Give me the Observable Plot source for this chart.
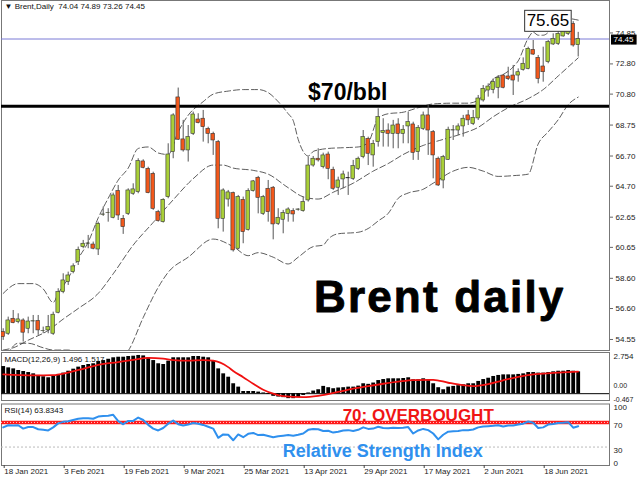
<!DOCTYPE html>
<html><head><meta charset="utf-8">
<script src="https://cdn.jsdelivr.net/npm/d3@7"></script>
<script src="https://cdn.jsdelivr.net/npm/@observablehq/plot@0.6"></script>
<style>
html,body{margin:0;padding:0;background:#fff;}
#chart{position:relative;width:640px;height:480px;overflow:hidden;font-family:"Liberation Sans",Arial,sans-serif;}
</style></head><body><div id="chart"></div>
<script>
// ---- daily OHLC (bar index 0 = 18 Jan 2021) ----
const opens = [55.04,54.93,55.92,55.70,55.81,55.26,55.74,55.77,55.10,55.15,54.93,56.32,57.69,58.35,59.01,59.67,60.67,60.89,60.84,60.51,
62.81,62.92,62.61,64.38,62.54,62.87,64.20,64.31,66.34,65.85,65.52,62.98,62.32,63.98,66.96,70.58,67.80,67.07,68.17,69.12,
69.17,68.50,68.17,67.62,62.54,63.82,64.24,60.56,63.80,61.81,64.38,65.26,62.87,64.53,64.60,62.21,62.48,62.87,63.05,63.14,
63.05,63.76,66.07,66.52,65.96,66.80,65.79,64.60,65.15,65.22,65.19,65.85,66.63,67.84,66.74,67.62,68.22,68.39,68.17,68.79,
68.17,68.66,68.79,66.96,68.50,69.39,68.28,66.52,65.08,66.45,68.39,68.39,68.66,69.39,68.83,69.19,70.38,71.04,71.08,71.22,
72.03,71.97,72.03,72.03,72.41,72.47,73.73,73.20,72.63,72.92,74.09,74.13,74.62,74.79,75.45,74.04];
const highs = [55.26,56.03,56.47,56.25,55.92,56.03,56.14,56.14,55.37,56.14,56.36,57.91,58.90,59.01,59.56,60.67,61.11,61.44,61.00,62.32,
63.32,63.21,64.24,64.75,62.76,64.53,64.86,66.52,66.45,65.96,65.63,63.10,63.87,67.51,69.50,71.20,69.06,68.72,69.61,69.50,
69.72,68.61,68.28,67.73,64.53,64.42,64.31,64.09,63.98,64.53,65.08,65.35,64.09,65.08,64.68,63.21,63.10,63.27,63.21,63.21,
63.98,66.63,66.67,67.18,66.89,66.96,65.96,65.30,65.70,65.63,66.41,66.63,68.39,67.95,67.73,69.83,69.17,68.83,69.06,69.17,
68.72,69.61,68.94,68.72,69.61,70.05,68.39,66.63,66.74,68.61,68.72,68.83,69.39,69.72,69.72,70.71,71.37,71.48,71.81,72.03,
72.10,72.58,72.70,72.47,73.20,73.91,74.35,73.36,73.91,74.35,74.79,75.12,75.34,75.65,75.60,74.89];
const lows = [54.49,54.82,55.59,55.59,54.38,54.93,54.93,54.82,54.93,54.93,54.82,56.25,57.58,58.13,58.90,59.45,60.56,60.56,60.49,60.11,
62.70,62.32,62.54,62.43,61.51,62.76,64.09,64.20,65.85,64.20,63.10,62.32,62.26,63.87,66.52,67.73,66.96,66.30,68.06,68.83,
67.62,67.51,66.74,61.88,61.66,63.32,60.34,60.49,60.89,61.73,64.31,62.87,62.76,62.32,61.15,62.10,61.55,62.32,62.32,63.05,
62.98,63.65,65.96,66.30,65.85,65.13,64.42,64.09,64.53,64.09,65.08,65.74,66.52,66.07,65.96,67.29,67.29,67.29,67.18,67.18,
67.51,67.51,66.41,66.41,68.39,66.74,65.19,64.68,64.53,66.41,67.73,68.06,67.95,68.72,68.72,69.05,70.27,70.60,70.82,70.49,
71.15,71.70,70.71,71.59,72.32,72.41,73.36,71.48,71.59,72.81,74.02,74.02,74.57,74.68,73.91,73.26];
const closes = [54.71,55.81,55.63,55.88,55.00,55.74,55.76,55.15,55.12,55.37,56.19,57.69,58.46,58.79,59.39,60.49,60.89,60.91,60.56,62.21,
62.83,62.94,64.09,62.76,61.99,64.42,64.49,66.36,65.92,64.24,63.20,62.39,63.80,66.80,69.39,67.78,67.07,67.95,69.45,68.88,
68.61,68.17,67.73,62.54,64.42,64.29,60.45,63.98,61.66,64.38,65.02,63.93,63.98,62.98,62.17,62.61,62.92,63.16,62.83,63.16,
63.65,66.07,66.52,66.41,66.74,65.85,64.53,65.08,65.48,65.24,66.03,66.52,67.95,66.85,67.51,69.28,68.35,68.17,68.72,68.17,
68.44,68.94,66.91,68.57,69.39,68.39,66.74,64.75,66.63,68.44,68.41,68.66,69.17,69.06,69.23,70.51,71.15,71.30,71.59,71.88,
71.22,71.79,71.70,72.25,72.81,73.80,73.42,71.81,72.25,74.24,74.46,74.79,74.97,75.34,74.02,74.45];

// ---- Bollinger bands (20,2) read at sample bars: [bar, value] ----
const bbUpper = [[0,57.6],[3,58.25],[6,58.25],[8,57.9],[10,57.0],[11,57.6],[13,58.6],[15,59.9],[17,61.0],[19,62.6],[21,63.9],[23,65.1],[25,65.9],[27,67.2],[29,67.3],[31,66.9],[33,66.8],[35,68.3],[37,69.4],[40,70.3],[42,70.8],[45,71.0],[48,71.1],[51,71.1],[53,70.9],[55,70.3],[57,69.5],[58,69.05],[59,67.8],[60,67.0],[61,66.7],[62,67.0],[63,67.1],[65,67.2],[68,67.25],[71,67.3],[73,67.6],[75,69.2],[77,69.5],[80,69.6],[83,69.9],[86,70.15],[90,70.2],[93,70.2],[95,70.4],[97,71.3],[98,71.8],[100,72.1],[102,72.6],[103,73.0],[105,74.5],[106,74.9],[107,74.7],[108,74.7],[110,75.2],[112,75.7],[113,75.8],[115,75.7]];
const bbMiddle = [[0,53.85],[2,54.0],[5,54.5],[9,55.15],[12,55.9],[15,56.6],[19,57.6],[22,58.9],[26,60.8],[30,62.3],[34,63.8],[38,65.2],[42,66.1],[44,66.1],[46,65.9],[50,65.75],[53,65.5],[57,64.6],[60,64.0],[63,63.85],[66,64.3],[70,64.9],[74,65.7],[77,66.2],[80,66.8],[84,67.4],[88,67.8],[92,68.2],[95,68.6],[98,69.3],[101,69.9],[105,70.5],[108,71.1],[111,72.0],[113,72.6],[115,73.2]];
const bbLower = [[0,53.0],[3,54.3],[5,54.3],[8,54.0],[10,53.85],[13,53.85],[16,53.3],[20,52.9],[24,53.4],[25,53.8],[28,56.0],[31,58.0],[33,59.0],[37,60.0],[42,61.2],[46,60.7],[49,60.1],[51,60.3],[54,60.0],[57,59.55],[59,60.0],[62,60.7],[64,60.8],[65,61.2],[67,61.55],[71,61.65],[73,61.9],[75,62.4],[77,62.9],[79,63.9],[81,64.25],[84,64.5],[86,64.9],[90,65.7],[93,65.95],[96,65.7],[99,65.35],[102,65.4],[105,65.5],[107,67.5],[109,68.3],[111,69.1],[113,70.1],[115,70.6]];

// ---- MACD(12,26,9) histogram per bar, signal at sample bars ----
const macdHist = [1.86,1.77,1.70,1.59,1.52,1.45,1.36,1.25,1.16,1.09,1.18,1.32,1.41,1.54,1.68,1.82,1.93,2.00,2.05,2.21,
2.27,2.36,2.46,2.50,2.50,2.55,2.57,2.62,2.59,2.46,2.27,2.05,2.00,2.23,2.46,2.46,2.46,2.46,2.55,2.55,
2.50,2.46,2.27,1.70,1.36,1.13,0.68,0.45,0.15,0.15,0.15,0.11,0.05,-0.05,-0.18,-0.23,-0.27,-0.34,-0.34,-0.27,
-0.12,0.05,0.18,0.27,0.50,0.41,0.34,0.39,0.41,0.45,0.45,0.52,0.68,0.64,0.73,0.90,0.97,1.02,1.02,1.02,
1.04,1.09,0.95,0.95,1.02,0.95,0.68,0.41,0.27,0.45,0.50,0.55,0.61,0.68,0.68,0.84,0.97,1.06,1.18,1.25,
1.29,1.29,1.29,1.32,1.36,1.45,1.45,1.41,1.41,1.45,1.50,1.54,1.54,1.59,1.54,1.496];
const macdSignal = [[0,1.32],[6,1.25],[10,1.27],[13,1.45],[16,1.70],[19,1.98],[23,2.17],[26,2.32],[29,2.45],[32,2.40],[34,2.30],[37,2.26],[40,2.30],[42,2.26],[45,1.82],[46,1.56],[48,1.13],[50,0.68],[52,0.27],[54,0.0],[56,-0.17],[60,-0.24],[63,-0.15],[67,0.12],[70,0.34],[73,0.52],[76,0.68],[79,0.82],[82,0.93],[86,0.95],[89,0.75],[92,0.58],[94,0.52],[97,0.66],[100,0.92],[103,1.15],[106,1.32],[110,1.42],[115,1.517]];

// ---- RSI(14) per bar ----
const rsi = [62,65.5,65,65.5,60,62.5,62.5,59,58,57,62,68.5,71,72,74,76,77,77,76,79.5,
80.5,81,82.5,72,67,72.5,72.5,78,74,66,60,57,61,68,73,67,65,66.5,69,68,
66,63,60,45,50.5,50,41,50.5,46,51.5,53,49.5,50,48,46,47.5,48.5,49.5,48.5,50,
52,58,59.5,59,56,56.5,53.5,55,57,57.5,56,58,62,59.5,60,63,61,60.5,61.5,61,
61.5,62.5,52,57,59.5,57.5,52,42.5,50,55,55.5,56,57.5,57.5,58.5,62,63.5,64,64.5,65.5,
63.5,65,65,66.5,68,71.5,69.5,61,62,66.5,67.5,69,69.5,70.5,61.5,63.8343];

// ---- axes ----
const priceTicks = [54.55,56.60,58.60,60.65,62.65,64.70,66.70,68.75,70.80,72.80,74.85];
const dateTickBars = [0,12,24,36,48,60,72,84,96,108];
const dateLabels = ["18 Jan 2021","3 Feb 2021","19 Feb 2021","9 Mar 2021","25 Mar 2021","13 Apr 2021","29 Apr 2021","17 May 2021","2 Jun 2021","18 Jun 2021"];
const macdLevels = [2.754, -0.467];
const rsiLevels = [100, 70, 30, 0];
const keyLevel = 70;

// ---- build tables ----
const candles = opens.map((o, i) => ({i, open: o, high: highs[i], low: lows[i], close: closes[i]}));
const pairs = a => a.map(([i, v]) => ({i, v}));
const hist = macdHist.map((v, i) => ({i, v}));
const rsiData = rsi.map((v, i) => ({i, v}));
const last = candles[candles.length - 1];
const hiIdx = d3.maxIndex(highs);

const XD = [-0.34, 121.26];
const FONT = "Liberation Sans, Arial, sans-serif";
const bull = "#a9cf38", bear = "#f2581b";
const chart = document.getElementById("chart");

function place(svg, top) {
  const d = document.createElement("div");
  d.style.position = "absolute"; d.style.left = "0px"; d.style.top = top + "px";
  d.appendChild(svg); chart.appendChild(d);
}
function findText(svg, str) {
  return Array.from(svg.querySelectorAll("text")).filter(t => t.textContent === str);
}
function boxText(svg, str, fill, stroke, padX, padY) {
  findText(svg, str).forEach(t => {
    const b = t.getBBox();
    const r = document.createElementNS("http://www.w3.org/2000/svg", "rect");
    r.setAttribute("x", b.x - padX); r.setAttribute("y", b.y - padY);
    r.setAttribute("width", b.width + 2 * padX); r.setAttribute("height", b.height + 2 * padY);
    if (t.getAttribute("transform")) r.setAttribute("transform", t.getAttribute("transform"));
    r.setAttribute("fill", fill); r.setAttribute("stroke", stroke); r.setAttribute("stroke-width", 1);
    t.parentNode.insertBefore(r, t);
  });
}
const dash = {stroke: "#333", strokeWidth: 0.8, strokeDasharray: "6,3", curve: "monotone-x", clip: true};

// ---- main price panel ----
const main = Plot.plot({
  width: 640, height: 351, marginLeft: 1, marginRight: 31, marginTop: 0, marginBottom: 1,
  style: {fontFamily: FONT, fontSize: "8px", background: "white", overflow: "visible"},
  x: {domain: XD, axis: null},
  y: {domain: [53.82, 77.0]},
  marks: [
    Plot.frame({stroke: "#777"}),
    Plot.axisY({anchor: "right", ticks: priceTicks, tickFormat: d => d.toFixed(2), tickSize: 3, tickPadding: 3, fontSize: 8, label: null, stroke: "#666", fill: "#222"}),
    Plot.line(pairs(bbUpper), {x: "i", y: "v", ...dash}),
    Plot.line(pairs(bbMiddle), {x: "i", y: "v", ...dash}),
    Plot.line(pairs(bbLower), {x: "i", y: "v", ...dash}),
    Plot.ruleY([last.close], {stroke: "#7a7ad6", strokeWidth: 1}),
    Plot.ruleY([keyLevel], {stroke: "#000", strokeWidth: 3}),
    Plot.ruleX(candles, {x: "i", y1: "low", y2: "high", stroke: "#555", strokeWidth: 1, clip: true}),
    Plot.rect(candles, {x1: d => d.i - 0.36, x2: d => d.i + 0.36, y1: "open", y2: "close",
      fill: d => d.close >= d.open ? bull : bear, stroke: "#333", strokeWidth: 0.6, clip: true}),
    Plot.text([`▼ Brent,Daily  ${last.open.toFixed(2)} ${last.high.toFixed(2)} ${last.low.toFixed(2)} ${last.close.toFixed(2)}`],
      {frameAnchor: "top-left", dx: 3, dy: 3, fontSize: 8, fill: "#111"}),
    Plot.text([{i: hiIdx, v: highs[hiIdx]}], {x: "i", y: "v", text: d => d.v.toFixed(2), textAnchor: "end", dx: 1, fontSize: 17, fill: "#000"}),
    Plot.text([last.close], {y: d => d, text: d => d.toFixed(2), frameAnchor: "right", textAnchor: "start", dx: 4, dy: 0.5, fontSize: 8, fill: "#fff"}),
    Plot.text(["$70/bbl"], {x: 68.9, y: keyLevel, lineAnchor: "bottom", dy: -6, fontSize: 23, fontWeight: "bold", fill: "#000"}),
    Plot.text(["Brent daily"], {x: 87.3, y: 56.34, lineAnchor: "bottom", textAnchor: "middle", fontSize: 44, fontWeight: "bold", fill: "#000", stroke: "#000", strokeWidth: 0.9})
  ]
});
place(main, 0);
boxText(main, highs[hiIdx].toFixed(2), "white", "#333", 2, 1);
boxText(main, last.close.toFixed(2), "#000", "#000", 2, 0);
findText(main, "Brent daily").forEach(t => t.style.letterSpacing = "2.2px");

// ---- MACD panel ----
const macd = Plot.plot({
  width: 640, height: 50, marginLeft: 1, marginRight: 31, marginTop: 2, marginBottom: 1,
  style: {fontFamily: FONT, fontSize: "8px", background: "white", overflow: "visible"},
  x: {domain: XD, axis: null},
  y: {domain: [-0.467, 2.754], axis: null},
  marks: [
    Plot.frame({stroke: "#777", insetTop: -1}),
    Plot.ruleX(hist, {x: "i", y1: 0, y2: "v", stroke: "#000", strokeWidth: 3.8}),
    Plot.ruleY([0], {stroke: "#000", strokeWidth: 1}),
    Plot.line(pairs(macdSignal), {x: "i", y: "v", stroke: "#f01010", strokeWidth: 1.8, curve: "monotone-x"}),
    Plot.text([`MACD(12,26,9) ${macdHist[macdHist.length - 1].toFixed(3)} ${macdSignal[macdSignal.length - 1][1].toFixed(3)}`],
      {frameAnchor: "top-left", dx: 3, dy: 3, fontSize: 8, fill: "#111"}),
    Plot.text([macdLevels[0]], {y: d => d, text: d => d.toFixed(3), frameAnchor: "right", textAnchor: "start", dx: 4, lineAnchor: "top", fontSize: 8, fill: "#222"}),
    Plot.text([0], {y: d => d, text: () => "0.00", frameAnchor: "right", textAnchor: "start", dx: 4, lineAnchor: "bottom", dy: 1, fontSize: 7, fill: "#222"}),
    Plot.text([macdLevels[1]], {y: d => d, text: d => d.toFixed(3), frameAnchor: "right", textAnchor: "start", dx: 4, lineAnchor: "bottom", dy: 1, fontSize: 7, fill: "#222"})
  ]
});
place(macd, 351);
findText(macd, "0.00").forEach(t => t.setAttribute("dy", "-7"));

// ---- RSI panel ----
const rsiPlot = Plot.plot({
  width: 640, height: 78, marginLeft: 1, marginRight: 31, marginTop: 1.5, marginBottom: 15,
  style: {fontFamily: FONT, fontSize: "8px", background: "white", overflow: "visible"},
  x: {domain: XD},
  y: {domain: [0, 100], axis: null},
  marks: [
    Plot.frame({stroke: "#777"}),
    Plot.ruleY([30], {stroke: "#bbb", strokeDasharray: "2,2"}),
    Plot.ruleY([keyLevel], {stroke: "#ff1a1a", strokeWidth: 3.5}),
    Plot.ruleY([keyLevel], {stroke: "#ffc8c8", strokeWidth: 1, strokeDasharray: "1,2"}),
    Plot.line(rsiData, {x: "i", y: "v", stroke: "#2f90ee", strokeWidth: 2}),
    Plot.text(["RSI(14) " + rsi[rsi.length - 1].toFixed(4)], {frameAnchor: "top-left", dx: 3, dy: 3, fontSize: 8, fill: "#111"}),
    Plot.text(rsiLevels.filter(d => d > 0), {y: d => d, text: d => String(d), frameAnchor: "right", textAnchor: "start", dx: 4, lineAnchor: "top", fontSize: 8, fill: "#222"}),
    Plot.text([0], {y: d => d, text: d => String(d), frameAnchor: "right", textAnchor: "start", dx: 4, lineAnchor: "bottom", fontSize: 8, fill: "#222"}),
    Plot.text(["70: OVERBOUGHT"], {x: 83, y: keyLevel, lineAnchor: "bottom", dy: -1, fontSize: 17, fontWeight: "bold", fill: "#f01515"}),
    Plot.text(["Relative Strength Index"], {x: 75.9, y: 24, fontSize: 18, fontWeight: "bold", fill: "#2f90ee"}),
    Plot.axisX({anchor: "bottom", ticks: dateTickBars, tickFormat: d => dateLabels[dateTickBars.indexOf(d)],
      tickSize: 3, tickPadding: 0, textAnchor: "start", dx: 1, fontSize: 8, label: null, fill: "#222", stroke: "#444"})
  ]
});
place(rsiPlot, 402);
</script></body></html>
